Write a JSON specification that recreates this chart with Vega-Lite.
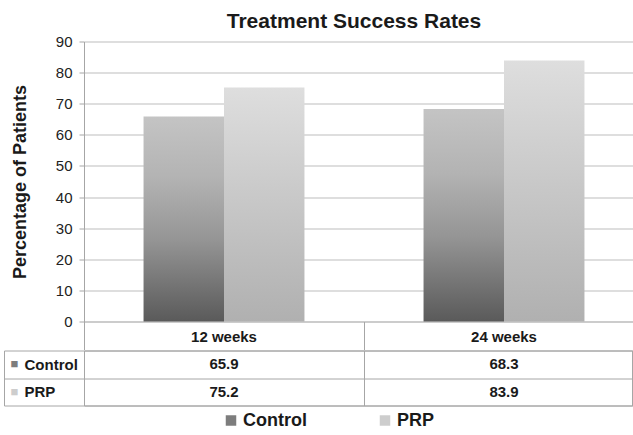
{
  "$schema": "https://vega.github.io/schema/vega-lite/v6.json",
  "background": "white",
  "padding": {"left": 3, "top": 10.5, "right": 0, "bottom": 0},
  "spacing": -9,
  "config": {
    "font": "Liberation Sans",
    "view": {"stroke": null}
  },
  "datasets": {
    "rates": [
      {"period": "12 weeks", "series": "Control", "value": 65.9},
      {"period": "12 weeks", "series": "PRP", "value": 75.2},
      {"period": "24 weeks", "series": "Control", "value": 68.3},
      {"period": "24 weeks", "series": "PRP", "value": 83.9}
    ]
  },
  "vconcat": [
    {
      "title": {"text": "Treatment Success Rates", "fontSize": 21, "fontWeight": "bold", "color": "#1a1a1a", "dx": -4, "offset": 3},
      "width": 548,
      "height": 280,
      "data": {"name": "rates"},
      "encoding": {
        "x": {
          "field": "period", "type": "nominal", "title": null, "sort": ["12 weeks", "24 weeks"],
          "scale": {"range": [0, 560], "paddingInner": 0, "paddingOuter": 0},
          "axis": {"orient": "bottom", "domain": false, "bandPosition": 0, "tickSize": 28, "tickColor": "#a6a6a6", "tickWidth": 1, "labelAngle": 0, "labelFontSize": 15, "labelFontWeight": "bold", "labelColor": "#1a1a1a", "labelBaseline": "middle", "labelPadding": -13.5}
        },
        "xOffset": {"field": "series", "type": "nominal", "sort": ["Control", "PRP"], "scale": {"paddingInner": 0, "paddingOuter": 0.74}},
        "y": {
          "field": "value", "type": "quantitative", "title": "Percentage of Patients",
          "scale": {"domain": [0, 90], "nice": false},
          "axis": {"values": [0, 10, 20, 30, 40, 50, 60, 70, 80, 90], "domainColor": "#a6a6a6", "tickColor": "#a6a6a6", "tickSize": 5, "labelFontSize": 15, "labelColor": "#222222", "labelPadding": 7, "gridColor": {"condition": {"test": "datum.value === 0", "value": "#999999"}, "value": "#bdbdbd"}, "gridWidth": 1, "titleFontSize": 18, "titleFontWeight": "bold", "titleColor": "#1a1a1a", "titlePadding": 26}
        }
      },
      "layer": [
        {
          "mark": {"type": "bar"},
          "encoding": {
            "fill": {
              "condition": {
                "test": "datum.series === 'Control'",
                "value": {"gradient": "linear", "x1": 0, "y1": 0, "x2": 0, "y2": 1, "stops": [
                  {"offset": 0, "color": "#c4c4c4"},
                  {"offset": 0.3, "color": "#b3b3b3"},
                  {"offset": 0.6, "color": "#959595"},
                  {"offset": 1, "color": "#5a5a5a"}
                ]}
              },
              "value": {"gradient": "linear", "x1": 0, "y1": 0, "x2": 0, "y2": 1, "stops": [
                {"offset": 0, "color": "#dedede"},
                {"offset": 1, "color": "#b0b0b0"}
              ]}
            }
          }
        },
        {
          "mark": {"type": "bar", "opacity": 0},
          "encoding": {
            "color": {
              "field": "series", "type": "nominal", "sort": ["Control", "PRP"],
              "scale": {"range": ["#7d7d7d", "#cdcdcd"]},
              "legend": {"title": null, "orient": "none", "legendX": 138, "legendY": 370, "direction": "horizontal", "symbolType": "square", "symbolSize": 110, "symbolStrokeWidth": 0, "symbolOpacity": 1, "labelFontSize": 18, "labelFontWeight": "bold", "labelColor": "#1a1a1a", "columnPadding": 69, "labelOffset": 3}
            }
          }
        }
      ]
    },
    {
      "width": 548,
      "height": 55,
      "data": {"name": "rates"},
      "view": {"stroke": "#a6a6a6"},
      "resolve": {"axis": {"y": "independent"}},
      "layer": [
        {
          "mark": {"type": "text", "fontSize": 15, "fontWeight": "bold", "color": "#1a1a1a", "baseline": "middle"},
          "encoding": {
            "x": {
              "field": "period", "type": "nominal", "title": null, "sort": ["12 weeks", "24 weeks"],
              "scale": {"range": [0, 560], "paddingInner": 0, "paddingOuter": 0},
              "axis": {"labels": false, "ticks": false, "domain": false, "grid": true, "tickBand": "extent", "values": ["12 weeks"], "gridColor": "#a6a6a6"}
            },
            "y": {
              "field": "series", "type": "nominal", "title": null, "sort": ["Control", "PRP"],
              "scale": {"paddingInner": 0, "paddingOuter": 0},
              "axis": {"orient": "left", "tickBand": "extent", "tickSize": 80, "tickColor": "#a6a6a6", "domainColor": "#a6a6a6", "labelAlign": "left", "labelPadding": -20, "labelFontSize": 15, "labelFontWeight": "bold", "labelColor": "#1a1a1a", "grid": true, "gridColor": "#a6a6a6"}
            },
            "text": {"field": "value", "type": "quantitative", "format": ".1f"}
          }
        },
        {
          "mark": {"type": "text", "text": ""},
          "encoding": {
            "y": {
              "field": "series", "type": "nominal", "title": null, "sort": ["Control", "PRP"],
              "axis": {"orient": "left", "offset": 80, "ticks": false, "tickSize": 0, "grid": false, "domainColor": "#a6a6a6", "labelExpr": "'■'", "labelAlign": "left", "labelPadding": -6, "labelFontSize": 13, "labelColor": {"condition": {"test": "datum.value === 'Control'", "value": "#7d7d7d"}, "value": "#cdcdcd"}}
            }
          }
        }
      ]
    }
  ]
}
